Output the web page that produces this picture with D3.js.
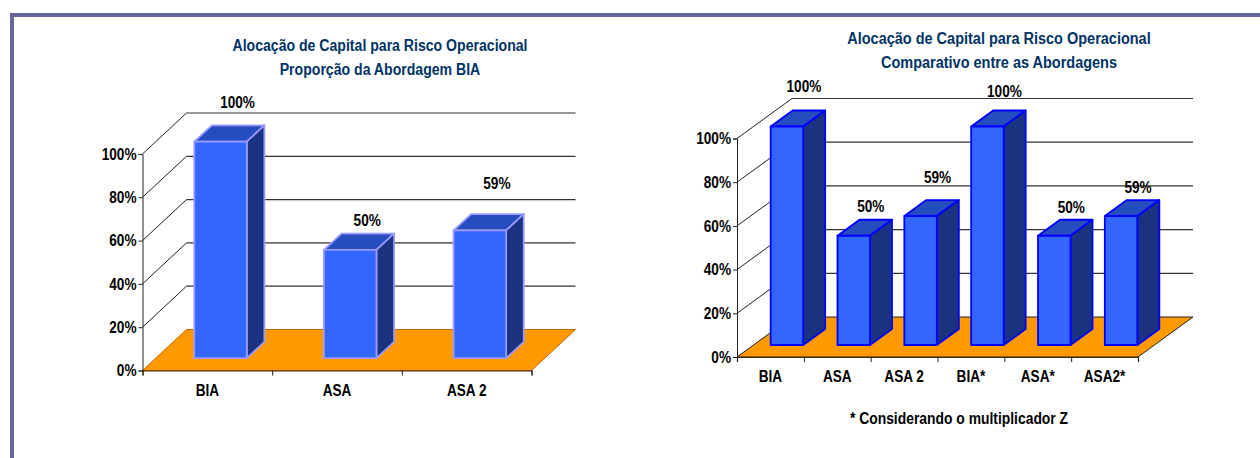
<!DOCTYPE html>
<html>
<head>
<meta charset="utf-8">
<script src="https://cdn.jsdelivr.net/npm/d3@7"></script>
<style>
  html, body { margin: 0; padding: 0; background: #fff; }
  svg { display: block; }
  text { font-family: "Liberation Sans", Arial, sans-serif; font-weight: bold; fill: #000; }
</style>
</head>
<body>
<svg id="chart"></svg>
<script>
const yTicks = [0, 20, 40, 60, 80, 100];

const leftTitle = ['Alocação de Capital para Risco Operacional', 'Proporção da Abordagem BIA'];
const leftCategories = ['BIA', 'ASA', 'ASA 2'];
const leftValues = [100, 50, 59];

const rightTitle = ['Alocação de Capital para Risco Operacional', 'Comparativo entre as Abordagens'];
const rightCategories = ['BIA', 'ASA', 'ASA 2', 'BIA*', 'ASA*', 'ASA2*'];
const rightValues = [100, 50, 59, 100, 50, 59];
const footnote = '* Considerando o multiplicador Z';

const svg = d3.select('#chart').attr('width', 1260).attr('height', 458);

// page frame, top and left rules only
svg.append('rect').attr('x', 10).attr('y', 13).attr('width', 1250).attr('height', 4).attr('fill', '#666699');
svg.append('rect').attr('x', 10).attr('y', 13).attr('width', 4).attr('height', 445).attr('fill', '#666699');

// the original text is a squeezed Arial: tall glyphs in a narrow run
function squeeze(sel, size, k) {
  sel.style('font-size', size + 'px').style('font-family', null)
    .each(function () {
      d3.select(this)
        .attr('lengthAdjust', 'spacingAndGlyphs')
        .attr('textLength', this.getComputedTextLength() * k);
    });
}

function drawChart(opts) {
  const { categories, values, title, x0, x1, y0, y100, dx, dy, barWidth, stroke, floorStroke, labelLift } = opts;

  const x = d3.scaleBand().domain(categories).range([x0, x1]);
  const y = d3.scaleLinear().domain([0, 100]).range([y0, y100]);
  const edge = d3.scaleLinear().domain([0, categories.length]).range([x0, x1]);

  const g = svg.append('g');

  // back wall grid and side wall diagonals
  const grid = yTicks.filter(t => t > 0);
  g.selectAll('.back').data(grid).enter().append('line')
    .attr('x1', x0 + dx).attr('x2', x1 + dx)
    .attr('y1', d => y(d) - dy).attr('y2', d => y(d) - dy)
    .attr('stroke', '#333').attr('stroke-width', 1.2);
  g.selectAll('.side').data(grid).enter().append('line')
    .attr('x1', x0).attr('x2', x0 + dx)
    .attr('y1', d => y(d)).attr('y2', d => y(d) - dy)
    .attr('stroke', '#222').attr('stroke-width', 1);

  // floor
  const floor = [[x0, y0], [x0 + dx, y0 - dy], [x1 + dx, y0 - dy], [x1, y0]];
  g.append('polygon')
    .attr('points', floor.join(' '))
    .attr('fill', '#FF9900')
    .attr('stroke', floorStroke).attr('stroke-width', 1);

  // bars sit between 30% and 70% of the depth
  const bx = 0.3 * dx, by = 0.3 * dy, sx = 0.4 * dx, sy = 0.4 * dy;
  const bars = g.selectAll('.bar').data(values).enter().append('g');
  const left = (d, i) => x(categories[i]) + (x.bandwidth() - barWidth) / 2 + bx;

  bars.append('polygon') // top
    .attr('points', (d, i) => {
      const l = left(d, i), t = y(d) - by;
      return [[l, t], [l + sx, t - sy], [l + barWidth + sx, t - sy], [l + barWidth, t]].join(' ');
    })
    .attr('fill', '#254DBF');
  bars.append('polygon') // side
    .attr('points', (d, i) => {
      const r = left(d, i) + barWidth, t = y(d) - by, b = y0 - by;
      return [[r, t], [r + sx, t - sy], [r + sx, b - sy], [r, b]].join(' ');
    })
    .attr('fill', '#1A3380');
  bars.append('rect') // front
    .attr('x', left)
    .attr('y', d => y(d) - by)
    .attr('width', barWidth)
    .attr('height', d => y0 - y(d))
    .attr('fill', '#3366FF');
  bars.selectAll('polygon, rect')
    .attr('stroke', stroke).attr('stroke-width', 1.8).attr('stroke-linejoin', 'round');

  // y axis
  const yAxis = g.append('g')
    .attr('transform', `translate(${x0},0)`)
    .call(d3.axisLeft(y).tickValues(yTicks).tickSize(4).tickPadding(2).tickFormat(d => d + '%'));
  yAxis.select('.domain').attr('stroke', '#222').attr('stroke-width', 1);
  yAxis.selectAll('.tick line').attr('stroke', '#222');
  squeeze(yAxis.selectAll('text'), 16, 0.85);

  // x axis: ticks on the band edges, labels in the band centres
  const xTicks = g.append('g')
    .attr('transform', `translate(0,${y0})`)
    .call(d3.axisBottom(edge).tickValues(d3.range(categories.length + 1)).tickSize(5).tickFormat(''));
  xTicks.select('.domain').attr('stroke', '#3a2a10').attr('stroke-width', 1.2);
  xTicks.selectAll('.tick line').attr('stroke', '#222');

  const xLabels = g.append('g')
    .attr('transform', `translate(0,${y0})`)
    .call(d3.axisBottom(x).tickSize(0).tickPadding(opts.xPad));
  xLabels.select('.domain').remove();
  squeeze(xLabels.selectAll('text'), 16, 0.85);

  // value labels, lifted by hand like in the original
  squeeze(g.selectAll('.value').data(values).enter().append('text')
    .attr('x', (d, i) => left(d, i) + barWidth / 2 + 17)
    .attr('y', (d, i) => y(d) - by - sy - labelLift[i])
    .attr('text-anchor', 'middle')
    .text(d => d + '%'), 16, 0.85);

  // title
  squeeze(g.selectAll('.title').data(title).enter().append('text')
    .attr('x', opts.titleX)
    .attr('y', (d, i) => opts.titleY + i * 24)
    .attr('text-anchor', 'middle')
    .style('fill', '#003366')
    .text(d => d), 16, opts.titleSqueeze);
}

drawChart({
  categories: leftCategories, values: leftValues, title: leftTitle,
  x0: 142.5, x1: 531.5, y0: 370.5, y100: 154, dx: 44, dy: 41,
  barWidth: 52.5, stroke: '#9999FF', floorStroke: '#CC6600',
  labelLift: [17, 8, 25], xPad: 14,
  titleX: 380, titleY: 50.5, titleSqueeze: 0.88
});

drawChart({
  categories: rightCategories, values: rightValues, title: rightTitle,
  x0: 737, x1: 1138, y0: 357, y100: 138.5, dx: 55, dy: 40,
  barWidth: 32.5, stroke: '#0000FF', floorStroke: '#222',
  labelLift: [18.5, 8, 17, 14, 7, 7], xPad: 14,
  titleX: 999, titleY: 43.5, titleSqueeze: 0.905
});

squeeze(svg.append('text')
  .attr('x', 959).attr('y', 424)
  .attr('text-anchor', 'middle')
  .text(footnote), 16, 0.867);
</script>
</body>
</html>
